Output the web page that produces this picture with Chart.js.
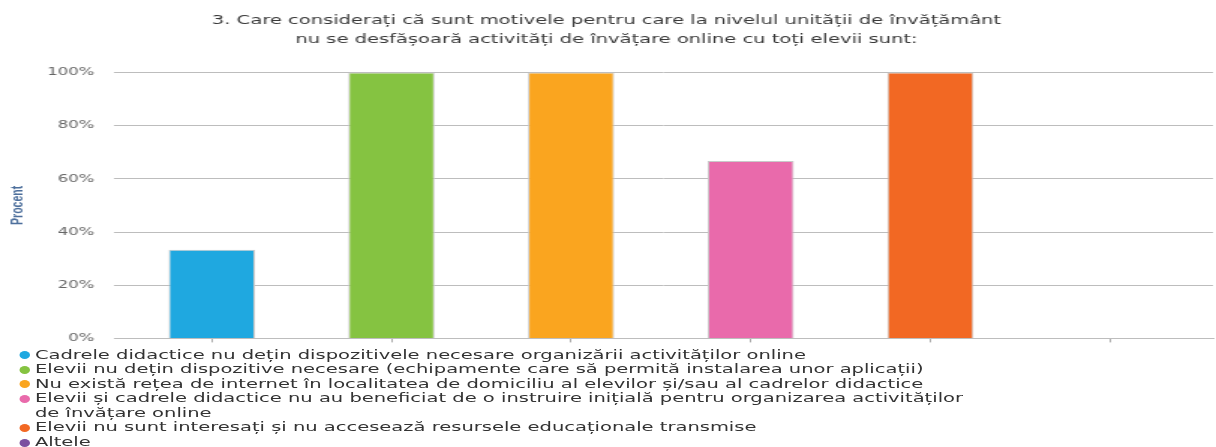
<!DOCTYPE html>
<html lang="ro">
<head>
<meta charset="utf-8">
<title>Motive activități online</title>
<script src="https://cdn.jsdelivr.net/npm/chart.js@4.4.1/dist/chart.umd.min.js"></script>
<style>
  html, body { margin: 0; padding: 0; background: #fff; overflow: hidden; }
  /* the chart is laid out narrow and then widened to fill the 1216px frame */
  #frame {
    position: relative;
    width: 811px;
    height: 447px;
    transform: scaleX(1.49938);
    transform-origin: 0 0;
  }
  #plot { position: relative; width: 811px; height: 358px; }
  #legend {
    position: absolute;
    left: 0;
    top: 347.5px;
    margin: 0;
    padding: 0;
    list-style: none;
    font-family: "DejaVu Sans", sans-serif;
    font-size: 13px;
    line-height: 14.6px;
    color: #333;
  }
  #legend li { position: relative; padding-left: 23.3px; white-space: nowrap; }
  #legend .dot {
    position: absolute;
    left: 13px;
    top: 3.5px;
    width: 7px;
    height: 8px;
    border-radius: 50%;
  }
</style>
</head>
<body>
<div id="frame">
  <div id="plot"><canvas id="chart"></canvas></div>
  <ul id="legend"></ul>
</div>
<script>
  const chartTitle = [
    "3. Care considerați că sunt motivele pentru care la nivelul unității de învățământ",
    "nu se desfășoară activități de învățare online cu toți elevii sunt:",
  ];

  // multi-line entries are arrays, one string per line
  const categories = [
    "Cadrele didactice nu dețin dispozitivele necesare organizării activităților online",
    "Elevii nu dețin dispozitive necesare (echipamente care să permită instalarea unor aplicații)",
    "Nu există rețea de internet în localitatea de domiciliu al elevilor și/sau al cadrelor didactice",
    [
      "Elevii și cadrele didactice nu au beneficiat de o instruire inițială pentru organizarea activităților",
      "de învățare online",
    ],
    "Elevii nu sunt interesați și nu accesează resursele educaționale transmise",
    "Altele",
  ];

  const percentValues = [33.33, 100, 100, 66.67, 100, 0];

  const barColors = ["#1fa8e0", "#85c341", "#faa51f", "#e96aab", "#f26823", "#7b4fa0"];

  const yAxisTitle = "Procent";
  const yMax = 100;
  const yStep = 20;

  function buildLegend() {
    const ul = document.getElementById("legend");
    ul.innerHTML = categories
      .map((label, i) => {
        const text = Array.isArray(label) ? label.join("<br>") : label;
        return `<li><span class="dot" style="background:${barColors[i]}"></span>${text}</li>`;
      })
      .join("");
  }

  function makeChart() {
    Chart.defaults.font.family = '"DejaVu Sans", sans-serif';
    const grid = "#bdbdbd";

    new Chart(document.getElementById("chart"), {
      type: "bar",
      data: {
        datasets: [
          {
            data: percentValues.map((v, i) => ({ x: i, y: v })),
            backgroundColor: barColors,
            borderColor: "#c9c9c9",
            borderWidth: 1,
            categoryPercentage: 1,
            barPercentage: 0.48,
          },
        ],
      },
      options: {
        responsive: true,
        maintainAspectRatio: false,
        animation: false,
        layout: { padding: { left: 0, right: 2, top: 0, bottom: 0 } },
        plugins: {
          legend: { display: false },
          tooltip: { enabled: false },
          title: {
            display: true,
            text: chartTitle,
            color: "#3a3a3a",
            font: { size: 13, weight: "normal", lineHeight: 1.4 },
            padding: { top: 12, bottom: 24 },
          },
        },
        scales: {
          x: {
            type: "linear",
            offset: false,
            min: -0.544,
            max: 5.573,
            ticks: { display: false, stepSize: 1, includeBounds: false },
            grid: { offset: false, drawOnChartArea: false, drawTicks: true, tickLength: 4, color: "#aaa" },
            border: { display: true, color: grid },
          },
          y: {
            min: 0,
            max: yMax,
            ticks: {
              stepSize: yStep,
              color: "#666",
              padding: 13,
              font: { size: 11 },
              callback: (v) => v + "%",
            },
            grid: { drawTicks: false, color: grid },
            border: { display: false },
            title: {
              display: true,
              text: yAxisTitle,
              color: "#4d6f9c",
              font: { family: '"Liberation Sans", sans-serif', size: 10.5, weight: "bold", lineHeight: 1.2 },
              padding: { top: 6, bottom: 0 },
            },
          },
        },
      },
    });
  }

  buildLegend();
  makeChart();
</script>
</body>
</html>
